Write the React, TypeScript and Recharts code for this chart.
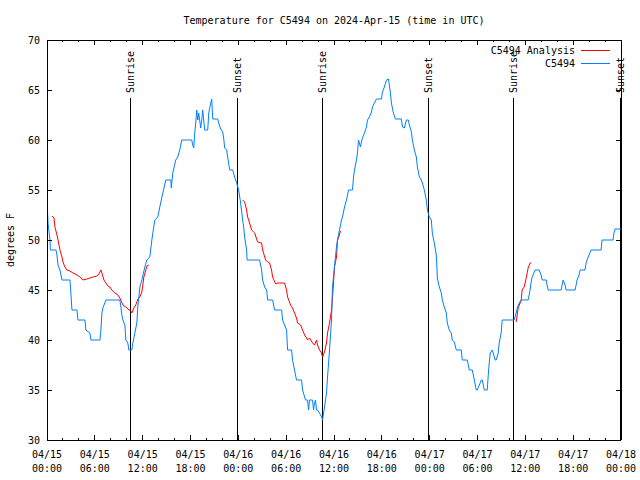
import React from 'react';
import { LineChart, Line, XAxis, YAxis, ReferenceLine } from 'recharts';

const FONT = '"DejaVu Sans Mono", "Liberation Mono", monospace';

const title = 'Temperature for C5494 on 2024-Apr-15 (time in UTC)';
const yAxisTitle = 'degrees F';
const seriesNames = ['C5494 Analysis', 'C5494'];
const seriesColors = ['#ff0000', '#0080ff'];

const xMajorTicks = [0, 6, 12, 18, 24, 30, 36, 42, 48, 54, 60, 66, 72];
const xDateLabels = ['04/15', '04/15', '04/15', '04/15', '04/16', '04/16', '04/16', '04/16', '04/17', '04/17', '04/17', '04/17', '04/18'];
const xTimeLabels = ['00:00', '06:00', '12:00', '18:00', '00:00', '06:00', '12:00', '18:00', '00:00', '06:00', '12:00', '18:00', '00:00'];
const xMinorTicks = [0, 2, 4, 6, 8, 10, 12, 14, 16, 18, 20, 22, 24, 26, 28, 30, 32, 34, 36, 38, 40, 42, 44, 46, 48, 50, 52, 54, 56, 58, 60, 62, 64, 66, 68, 70, 72];
const yTicks = [30, 35, 40, 45, 50, 55, 60, 65, 70];

// hours since 04/15 00:00 UTC
const sunriseHours = [10.48, 34.52, 58.55];
const sunsetHours = [23.85, 47.8, 71.9];
const sunLineTop = 64.2;

// C5494 observations [hour, degF]
const c5494Day1: [number, number][] = [
  [0.00, 54.1], [0.13, 51.7], [0.38, 50], [0.42, 49], [1.13, 49], [1.25, 48.5], [1.38, 47.5], [1.63, 47], [1.88, 46], [2.88, 46],
  [3.01, 44.5], [3.13, 43], [3.76, 43], [3.88, 42], [4.76, 42], [4.88, 41], [5.38, 40.7], [5.51, 40], [6.64, 40], [6.76, 41],
  [6.89, 42.7], [7.01, 43.2], [7.39, 44], [9.14, 44], [9.27, 43.3], [9.39, 42.5], [9.52, 42], [9.77, 41.5], [9.89, 40], [10.14, 39.7],
  [10.27, 39], [10.64, 39], [10.77, 39.7], [11.02, 40.7], [11.27, 41.7], [11.39, 43.3], [11.65, 45.3], [11.90, 46], [12.27, 47.3], [12.52, 48],
  [12.90, 48.3], [13.15, 50], [13.52, 52], [13.90, 52.3], [14.15, 53.3], [14.53, 54.7], [14.90, 56], [15.53, 56], [15.59, 55.2], [15.65, 55.7],
  [15.78, 56.7], [16.15, 58], [16.40, 58.3], [16.65, 59], [16.90, 60], [18.16, 60], [18.28, 59.5], [18.41, 59.2], [18.53, 60.7], [18.66, 61.7],
  [18.78, 63], [18.91, 62], [19.03, 62.7], [19.28, 61.2], [19.41, 62], [19.53, 63], [19.78, 61], [20.16, 61], [20.29, 62.7], [20.54, 63.7],
  [20.66, 64.1], [20.79, 62.1], [21.41, 62.1], [21.54, 61.7], [21.79, 61.1], [22.04, 60.8], [22.16, 60.2], [22.29, 59.2], [22.54, 59], [22.66, 58.3],
  [22.92, 57], [23.29, 57], [23.54, 56.3], [23.79, 55.7],
];
const c5494Day2: [number, number][] = [
  [24.04, 55], [24.29, 53.7], [24.54, 52], [24.67, 51.3], [24.79, 50.3], [25.04, 49], [25.10, 48], [26.67, 48], [26.92, 47], [27.05, 46],
  [27.30, 45.3], [27.55, 45], [27.67, 44], [28.30, 44], [28.55, 43], [29.43, 43], [29.55, 42], [30.05, 41], [30.18, 39], [30.68, 39],
  [30.80, 38], [31.05, 37], [31.30, 36], [31.93, 36], [32.06, 35], [32.43, 34], [32.68, 34], [32.81, 33], [32.93, 34], [33.31, 34],
  [33.43, 33], [33.56, 33.7], [33.68, 34], [33.81, 33], [33.93, 33], [34.18, 32.7], [34.44, 32.3], [34.56, 32], [34.81, 33.3], [35.06, 34.7],
  [35.19, 36.3], [35.44, 39], [35.69, 42], [35.81, 45.3], [36.06, 47.3], [36.31, 49.3], [36.44, 50], [36.69, 51], [36.94, 52], [37.07, 52.3],
  [37.32, 53.3], [37.57, 54], [37.82, 55], [38.32, 55], [38.45, 56.3], [38.57, 57], [38.82, 58], [38.94, 58.7], [39.07, 60], [39.32, 59.3],
  [39.44, 59.8], [39.57, 60.2], [39.82, 60.7], [40.07, 61.3], [40.20, 62], [40.45, 62.3], [40.70, 62.8], [40.82, 63.3], [41.07, 63.7], [41.32, 64.1],
  [41.95, 64.1], [42.07, 64.8], [42.32, 65.3], [42.57, 66], [42.83, 66.1], [43.08, 64.7], [43.20, 63.7], [43.45, 62.7], [43.70, 62.1], [44.45, 62.1],
  [44.58, 61.3], [44.83, 61.2], [45.08, 62], [45.33, 62], [45.45, 61.5], [45.71, 60.8], [45.83, 60], [46.08, 59], [46.33, 58.3], [46.46, 57.3],
  [46.71, 56.3], [46.96, 56], [47.08, 55.7], [47.33, 55], [47.58, 54], [47.71, 53],
];
const c5494Day3: [number, number][] = [
  [47.96, 52.3], [48.21, 52], [48.33, 50.7], [48.58, 49.7], [48.83, 48.5], [48.90, 47.5], [48.96, 46.2], [49.21, 45.3], [49.46, 44.7], [49.59, 44],
  [49.84, 43.3], [50.09, 42.7], [50.21, 41.7], [50.46, 41], [50.71, 40.7], [50.84, 40], [51.09, 39.8], [51.34, 39], [51.97, 39], [52.09, 38],
  [52.72, 38], [52.97, 37], [53.35, 37], [53.60, 36], [53.85, 35], [53.97, 35], [54.23, 35.5], [54.48, 36], [54.60, 36], [54.85, 35],
  [55.22, 35], [55.35, 36.5], [55.47, 37.7], [55.60, 38.7], [55.85, 39], [55.97, 38.7], [56.22, 38], [56.35, 38], [56.60, 38.7], [56.72, 39.7],
  [56.97, 40.7], [57.10, 42], [58.60, 42], [58.85, 42.7], [58.98, 43.2], [59.23, 43.7], [59.48, 44], [60.35, 44], [60.60, 45], [60.73, 45.8],
  [60.86, 46.3], [61.23, 47], [61.73, 47], [61.98, 46.5], [62.11, 46], [62.61, 46], [62.73, 45.5], [62.86, 45], [64.49, 45], [64.61, 45.5],
  [64.74, 46], [64.99, 45.5], [65.11, 45], [66.24, 45], [66.37, 45.5], [66.49, 46], [66.74, 46.5], [66.87, 47], [67.49, 47], [67.62, 47.7],
  [67.74, 48], [67.99, 48.5], [68.24, 49], [69.50, 49], [69.62, 50], [71.00, 50], [71.12, 50.7], [71.25, 51.1], [72.00, 51.1],
];

// C5494 Analysis segments [hour, degF]
const analysisSeg1: [number, number][] = [
  [0.63, 52.4], [0.88, 52.2], [1.00, 51.3], [1.25, 50.5], [1.38, 50], [1.63, 49], [1.88, 48.3], [2.00, 47.8], [2.25, 47.3], [2.50, 47],
  [2.88, 46.9], [3.26, 46.7], [3.76, 46.5], [4.13, 46.3], [4.51, 46], [5.01, 46.1], [5.38, 46.2], [5.76, 46.3], [6.26, 46.4], [6.51, 46.6],
  [6.76, 47], [6.89, 46.7], [7.14, 46], [7.39, 45.7], [7.64, 45.4], [7.89, 45.3], [8.14, 45], [8.51, 44.7], [8.89, 44.5], [9.14, 44.2],
  [9.52, 43.5], [9.89, 43.3], [10.14, 43.1], [10.52, 42.9], [10.64, 42.7], [10.89, 43.2], [11.14, 43.5], [11.40, 44.1], [11.65, 44.3], [11.90, 44.8],
  [12.02, 45.5], [12.15, 46.3], [12.40, 47], [12.52, 47.4], [12.77, 47.5],
];
const analysisSeg2: [number, number][] = [
  [24.54, 54], [24.79, 53.8], [25.04, 53], [25.17, 52.3], [25.42, 51.7], [25.67, 51], [26.05, 50.7], [26.42, 49.8], [26.92, 49.7], [27.05, 49],
  [27.42, 48], [27.67, 47.8], [27.92, 47.7], [28.17, 47], [28.30, 46.3], [28.68, 45.6], [28.93, 45.7], [29.55, 45.7], [29.80, 45.7], [30.05, 45],
  [30.18, 44.3], [30.55, 43.5], [30.80, 43.2], [31.05, 42.7], [31.30, 42.2], [31.43, 41.7], [31.81, 41.5], [32.06, 41], [32.31, 40.5], [32.56, 40.2],
  [32.68, 40], [32.93, 40.2], [33.31, 39.7], [33.56, 39.5], [33.81, 40], [33.93, 39.5], [34.18, 39], [34.44, 38.7], [34.56, 38.3], [34.81, 38.8],
  [35.06, 39.7], [35.19, 40.7], [35.44, 41.7], [35.69, 43], [35.81, 44.3], [35.94, 45.7], [36.06, 47.3], [36.31, 48.3], [36.44, 50], [36.56, 50.2],
  [36.81, 50.9],
];
const analysisSeg3: [number, number][] = [
  [58.85, 41.8], [58.98, 42.5], [59.10, 43.2], [59.35, 43.7], [59.48, 44], [59.60, 45], [59.85, 45.3], [59.98, 45.7], [60.10, 46.2], [60.23, 46.7],
  [60.35, 47.2], [60.60, 47.7], [60.73, 47.7],
];

const toRows = (pts: [number, number][]) => pts.map(([h, t]) => ({ h, t }));
const c5494Rows = toRows([...c5494Day1, ...c5494Day2, ...c5494Day3]);
const analysisRows = [analysisSeg1, analysisSeg2, analysisSeg3].map(toRows);

const textStyle = { fontFamily: FONT, fontSize: 10, fill: '#000' } as const;
const crisp = { shapeRendering: 'crispEdges' } as const;

const BottomTick = (props: any) => {
  const { x, y, payload } = props;
  const v = payload.value;
  const idx = xMajorTicks.indexOf(v);
  const major = idx >= 0;
  const len = major ? 5 : 2;
  return (
    <g>
      {v > 0 && v < 72 && <line x1={x} x2={x} y1={y} y2={y - len} stroke="#000" style={crisp} />}
      {major && (
        <>
          <text x={x} y={y + 14} textAnchor="middle" dominantBaseline="central" {...textStyle}>{xDateLabels[idx]}</text>
          <text x={x} y={y + 28} textAnchor="middle" dominantBaseline="central" {...textStyle}>{xTimeLabels[idx]}</text>
        </>
      )}
    </g>
  );
};

const TopTick = (props: any) => {
  const { x, y, payload } = props;
  const v = payload.value;
  const major = xMajorTicks.indexOf(v) >= 0;
  const len = major ? 5 : 2;
  if (v <= 0 || v >= 72) return <g />;
  return <line x1={x} x2={x} y1={y} y2={y + len} stroke="#000" style={crisp} />;
};

const LeftTick = (props: any) => {
  const { x, y, payload } = props;
  const v = payload.value;
  return (
    <g>
      {v > 30 && v < 70 && <line x1={x} x2={x + 5} y1={y} y2={y} stroke="#000" style={crisp} />}
      <text x={x - 7} y={y} textAnchor="end" dominantBaseline="central" {...textStyle}>{v}</text>
    </g>
  );
};

const RightTick = (props: any) => {
  const { x, y, payload } = props;
  const v = payload.value;
  if (v <= 30 || v >= 70) return <g />;
  return <line x1={x} x2={x - 5} y1={y} y2={y} stroke="#000" style={crisp} />;
};

const SunLabel = (props: any) => {
  const { viewBox, text } = props;
  if (!viewBox) return null;
  const x = viewBox.x;
  const y = viewBox.y - 5;
  return (
    <text x={x} y={y} transform={`rotate(-90 ${x} ${y})`} textAnchor="start" dominantBaseline="central" {...textStyle}>
      {text}
    </text>
  );
};

export default function App() {
  return (
    <div style={{ position: 'fixed', left: 0, top: 0, width: 640, height: 480, background: '#fff' }}>
      <LineChart width={640} height={480} margin={{ top: 39, right: 18, bottom: 0, left: 7 }}>
        <XAxis
          xAxisId="b"
          dataKey="h"
          type="number"
          domain={[0, 72]}
          ticks={xMinorTicks}
          interval={0}
          tick={BottomTick}
          tickLine={false}
          tickSize={0}
          tickMargin={0}
          height={40}
          axisLine={{ stroke: '#000', style: crisp }}
          allowDataOverflow
        />
        <XAxis
          xAxisId="t"
          orientation="top"
          dataKey="h"
          type="number"
          domain={[0, 72]}
          ticks={xMinorTicks}
          interval={0}
          tick={TopTick}
          tickLine={false}
          tickSize={0}
          tickMargin={0}
          height={1}
          axisLine={{ stroke: '#000', style: crisp }}
          allowDataOverflow
        />
        <YAxis
          yAxisId="l"
          type="number"
          domain={[30, 70]}
          ticks={yTicks}
          interval={0}
          tick={LeftTick}
          tickLine={false}
          tickSize={0}
          tickMargin={0}
          width={40}
          axisLine={{ stroke: '#000', style: crisp }}
          allowDataOverflow
        />
        <YAxis
          yAxisId="r"
          orientation="right"
          type="number"
          domain={[30, 70]}
          ticks={yTicks}
          interval={0}
          tick={RightTick}
          tickLine={false}
          tickSize={0}
          tickMargin={0}
          width={1}
          axisLine={{ stroke: '#000', style: crisp }}
          allowDataOverflow
        />
        {sunriseHours.map((h, i) => (
          <ReferenceLine
            key={'sr' + i}
            xAxisId="b"
            yAxisId="l"
            segment={[{ x: h, y: 30 }, { x: h, y: sunLineTop }]}
            stroke="#000"
            strokeWidth={1}
            shapeRendering="crispEdges"
            label={(p: any) => <SunLabel {...p} text="Sunrise" />}
          />
        ))}
        {sunsetHours.map((h, i) => (
          <ReferenceLine
            key={'ss' + i}
            xAxisId="b"
            yAxisId="l"
            segment={[{ x: h, y: 30 }, { x: h, y: sunLineTop }]}
            stroke="#000"
            strokeWidth={1}
            shapeRendering="crispEdges"
            label={(p: any) => <SunLabel {...p} text="Sunset" />}
          />
        ))}
        {analysisRows.map((rows, i) => (
          <Line
            key={'a' + i}
            xAxisId="b"
            yAxisId="l"
            data={rows}
            dataKey="t"
            type="linear"
            stroke={seriesColors[0]}
            strokeWidth={1}
            dot={false}
            isAnimationActive={false}
          />
        ))}
        <Line
          xAxisId="b"
          yAxisId="l"
          data={c5494Rows}
          dataKey="t"
          type="linear"
          stroke={seriesColors[1]}
          strokeWidth={1}
          dot={false}
          isAnimationActive={false}
        />
      </LineChart>
      <svg width={640} height={480} style={{ position: 'absolute', left: 0, top: 0, pointerEvents: 'none' }}>
        <text x={334} y={20} textAnchor="middle" dominantBaseline="central" {...textStyle}>{title}</text>
        <text x={10} y={240} textAnchor="middle" dominantBaseline="central" transform="rotate(-90 10 240)" {...textStyle}>{yAxisTitle}</text>
        {seriesNames.map((name, i) => (
          <g key={name}>
            <text x={575} y={50 + i * 13} textAnchor="end" dominantBaseline="central" {...textStyle}>{name}</text>
            <line x1={581} x2={610} y1={50 + i * 13} y2={50 + i * 13} stroke={seriesColors[i]} strokeWidth={1} style={crisp} />
          </g>
        ))}
      </svg>
    </div>
  );
}
